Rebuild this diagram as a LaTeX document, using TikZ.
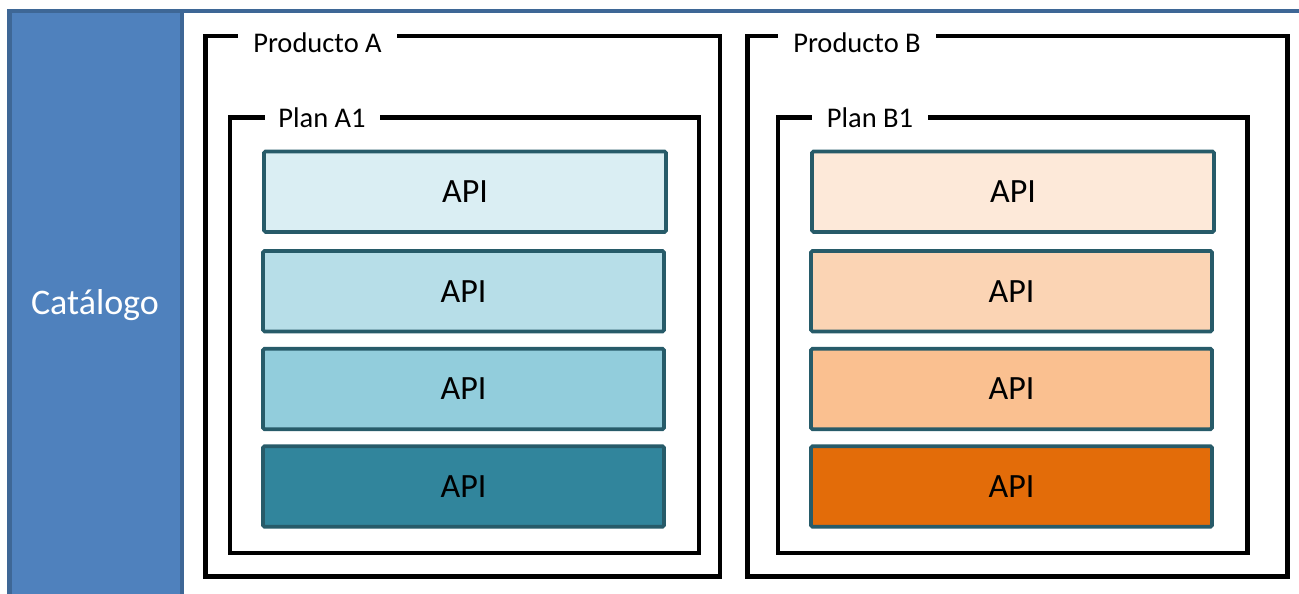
\documentclass[tikz,border=0pt]{standalone}
\usepackage{fontspec}
\setmainfont{Carlito}
\definecolor{catblue}{HTML}{4F81BD}
\definecolor{framec}{HTML}{3E6796}
\definecolor{apiborder}{HTML}{275B69}
\definecolor{aone}{HTML}{DAEEF3}
\definecolor{atwo}{HTML}{B7DEE8}
\definecolor{athree}{HTML}{92CDDC}
\definecolor{afour}{HTML}{31859C}
\definecolor{bone}{HTML}{FDE9D9}
\definecolor{btwo}{HTML}{FBD4B4}
\definecolor{bthree}{HTML}{FAC090}
\definecolor{bfour}{HTML}{E36C09}
\newcommand{\lblfont}{\fontsize{28.5}{34}\selectfont}
\newcommand{\apifont}{\fontsize{34}{40}\selectfont}
\begin{document}
\begin{tikzpicture}[x=1pt,y=-1pt,
  frame/.style={draw=black, line width=4.5pt, inner sep=0pt, outer sep=0pt},
  apibox/.style={draw=apiborder, line width=3.6pt, rounded corners=1.5pt, font=\apifont, text=black, inner sep=0pt, outer sep=0pt, minimum height=80.5pt},
  lbl/.style={fill=white, font=\lblfont, anchor=base, inner ysep=4pt, text=black},
]
\useasboundingbox (0,0) rectangle (1299,594);
\clip (0,0) rectangle (1299,594);
\fill[white] (0,0) rectangle (1299,594);
% outer frame
\node[draw=framec, line width=4.5pt, fill=white, minimum width=1320pt, minimum height=620pt, anchor=north west, inner sep=0pt, outer sep=0pt] (outer) at (9.5,11) {};
\node[draw=framec, line width=4pt, fill=catblue, minimum width=172.5pt, minimum height=620pt, anchor=north west, inner sep=0pt, outer sep=0pt] (cat) at (9.5,11) {};
\node[font=\fontsize{36}{42}\selectfont, text=white, anchor=base] (catlbl) at (95,314) {Catálogo};
% product and plan frames
\node[frame, minimum width=514.5pt, minimum height=540.5pt] (pa) at (462.75,306.25) {};
\node[frame, minimum width=469pt, minimum height=435.5pt] (plana) at (464.5,335.25) {};
\node[frame, minimum width=540pt, minimum height=540.5pt] (pb) at (1017.5,306.25) {};
\node[frame, minimum width=469.5pt, minimum height=435.5pt] (planb) at (1012.75,335.25) {};
% labels
\node[lbl, minimum width=159pt] (pal) at (317.5,53) {Producto A};
\node[lbl, minimum width=115pt] (planal) at (322,127) {Plan A1};
\node[lbl, minimum width=158pt] (pbl) at (857,53) {Producto B};
\node[lbl, minimum width=116pt] (planbl) at (870,127) {Plan B1};
% APIs A
\node[apibox, fill=aone, minimum width=402pt] (a1) at (465,191.7) {API};
\node[apibox, fill=atwo, minimum width=401pt] (a2) at (463.5,291.2) {API};
\node[apibox, fill=athree, minimum width=401pt] (a3) at (463.5,389) {API};
\node[apibox, fill=afour, minimum width=401pt] (a4) at (463.5,486.5) {API};
% APIs B
\node[apibox, fill=bone, minimum width=402pt] (b1) at (1013,191.7) {API};
\node[apibox, fill=btwo, minimum width=401pt] (b2) at (1011.5,291.2) {API};
\node[apibox, fill=bthree, minimum width=401pt] (b3) at (1011.5,389) {API};
\node[apibox, fill=bfour, minimum width=401pt] (b4) at (1011.5,486.5) {API};
\end{tikzpicture}
\end{document}
